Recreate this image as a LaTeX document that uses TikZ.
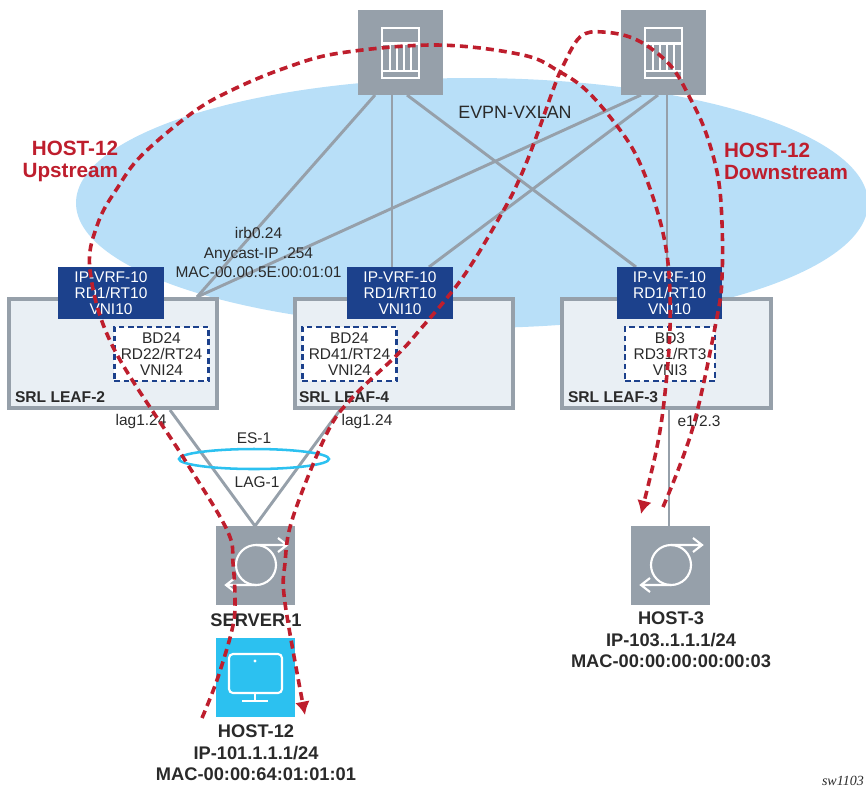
\documentclass[tikz,border=0pt]{standalone}
\usepackage{fontspec}
\setmainfont{Liberation Sans}
\newfontfamily\swfont{Liberation Serif}
\usetikzlibrary{arrows.meta}
\definecolor{cloud}{HTML}{B8DFF8}
\definecolor{gbox}{HTML}{96A0AA}
\definecolor{leaffill}{HTML}{E9EFF4}
\definecolor{navy}{HTML}{1C418C}
\definecolor{cyanb}{HTML}{2CC1F0}
\definecolor{redd}{HTML}{BE1E2D}
\definecolor{txt}{HTML}{2A2A2A}
\tikzset{
 x=0.75pt,y=-0.75pt,
 every node/.style={font=\fontsize{11.6}{12}\selectfont,text=txt,align=center,inner sep=0pt,outer sep=0pt},
 link/.style={draw=gbox,line width=2.2pt},
 boxg/.style={fill=gbox,draw=none,minimum width=63.75pt,minimum height=63.75pt},
 boxs/.style={fill=gbox,draw=none,minimum width=59.25pt,minimum height=59.25pt},
 leaf/.style={fill=leaffill,draw=gbox,line width=2.9pt},
 vrf/.style={fill=navy,text=white,minimum width=79pt,minimum height=38.5pt},
 bd/.style={fill=white,draw=navy,line width=2.2pt,dash pattern=on 4.2pt off 2.8pt,minimum height=40.5pt},
 flow/.style={draw=redd,line width=2.7pt,dash pattern=on 6pt off 3.8pt},
 ico/.style={draw=white,line width=1.6pt},
 bold/.style={font=\fontsize{13.7}{16.2}\selectfont\bfseries,text=txt},
 leaflab/.style={font=\fontsize{11.7}{14}\selectfont\bfseries,text=txt,anchor=west},
 redlab/.style={font=\fontsize{15.5}{16.5}\selectfont\bfseries,text=redd},
}
\begin{document}
\begin{tikzpicture}
\useasboundingbox (0,0) rectangle (866,790);
\clip (0,0) rectangle (866,790);
\fill[cloud] (472,203) ellipse [x radius=396,y radius=125];
% boxes
\node[boxg] (sp1) at (400.5,52.5) {};
\node[boxg] (sp2) at (663.5,52.5) {};
\node[leaf,minimum width=156pt,minimum height=81.75pt] (l2) at (113,353.5) {};
\node[leaf,minimum width=164pt,minimum height=81.75pt] (l4) at (404,353.5) {};
\node[leaf,minimum width=157pt,minimum height=81.75pt] (l3) at (666.5,353.5) {};
\node[boxs] (srv) at (255.5,565.5) {};
\node[boxs] (h3) at (670.5,565.5) {};
\node[boxs,fill=cyanb] (h12) at (255.5,677.5) {};
% connector anchors
\coordinate (a1) at (375,95);
\coordinate (a2) at (392,95);
\coordinate (a3) at (407,95);
\coordinate (b1) at (641,95);
\coordinate (b2) at (658,95);
\coordinate (b3) at (667,95);
\coordinate (l2t) at (197,297);
\coordinate (l4t) at (392,267);
\coordinate (l4u) at (429,267);
\coordinate (l3t) at (636,267);
\coordinate (l3v) at (667,267);
\coordinate (l2b) at (170,410);
\coordinate (l4b) at (340,410);
\coordinate (srvt) at (255,526);
\coordinate (l3b) at (669,410);
\coordinate (h3t) at (669,526);
\draw[link] (a1) -- (l2t);
\draw[link] (b1) -- (l2t);
\draw[link] (a2) -- (l4t);
\draw[link] (a3) -- (l3t);
\draw[link] (b2) -- (l4u);
\draw[link] (b3) -- (l3v);
\draw[link] (l2b) -- (srvt);
\draw[link] (l4b) -- (srvt);
\draw[link] (l3b) -- (h3t);
% vrf
\node[vrf] (v2) at (111,293) {IP-VRF-10\\RD1/RT10\\VNI10};
\node[vrf] (v4) at (400,293) {IP-VRF-10\\RD1/RT10\\VNI10};
\node[vrf] (v3) at (669.5,293) {IP-VRF-10\\RD1/RT10\\VNI10};
\node[bd,minimum width=71pt] (d2) at (161.5,354) {BD24\\RD22/RT24\\VNI24};
\node[bd,minimum width=71pt] (d4) at (349.5,354) {BD24\\RD41/RT24\\VNI24};
\node[bd,minimum width=67.5pt] (d3) at (670,354) {BD3\\RD31/RT3\\VNI3};
% labels
\node[leaflab] (t2) at (15,397) {SRL LEAF-2};
\node[leaflab] (t4) at (299,397) {SRL LEAF-4};
\node[leaflab] (t3) at (568,397) {SRL LEAF-3};
\node[font=\fontsize{13.4}{15}\selectfont] (evpn) at (515,112) {EVPN-VXLAN};
\node (irb) at (258.5,252.5) {irb0.24\\[2.4pt]Anycast-IP .254\\[2.4pt]MAC-00.00.5E:00:01:01};
\node (lg2) at (141,421) {lag1.24};
\node (lg4) at (367,421) {lag1.24};
\node (e1) at (699,421) {e1/2.3};
\node (es) at (254,438) {ES-1};
\node (lag) at (257,482) {LAG-1};
\node[bold] (nsrv) at (256,620) {SERVER-1};
\node[bold] (n12) at (256,753) {HOST-12\\IP-101.1.1.1/24\\MAC-00:00:64:01:01:01};
\node[bold] (n3) at (671,640) {HOST-3\\IP-103..1.1.1/24\\MAC-00:00:00:00:00:03};
\node[redlab,align=right,anchor=east] (up) at (118,161) {HOST-12\\Upstream};
\node[redlab,align=left,anchor=west] (down) at (724,161) {HOST-12\\Downstream};
\node[font=\swfont\itshape\fontsize{10.5}{12}\selectfont,anchor=west] (sw) at (822,781) {sw1103};
% ES ellipse
\draw[cyanb,line width=1.9pt] (254,459) ellipse [x radius=75,y radius=10];
% spine icons
\foreach \o in {0,263}{
 \begin{scope}[xshift=\o*0.75pt]
 \draw[ico] (382,28) rectangle (419,78);
 \draw[ico] (382,43.5) -- (419,43.5) (382,71) -- (419,71);
 \foreach \v in {390,397,404,411} \draw[ico] (\v,43.5) -- (\v,71);
 \end{scope}
}
% router icons
\foreach \o in {0,415}{
 \begin{scope}[xshift=\o*0.75pt]
 \draw[ico] (256,565) circle [radius=20];
 \draw[ico] (256,545) -- (286,545) (278,538) -- (287,545) -- (278,552);
 \draw[ico] (256,585) -- (227,585) (235,578) -- (226,585) -- (235,592);
 \end{scope}
}
% monitor
\draw[ico,rounded corners=3pt] (229,654) rectangle (282,693);
\draw[ico] (255,693) -- (255,701) (242,701) -- (268,701);
\fill[white] (255,661) circle [radius=1.6];
% flows
\draw[flow,-{Latex[length=10pt,width=11pt]}] plot[smooth,tension=0.6] coordinates {(202,718) (217,680) (232,630) (235,603) (233,563) (227,530) (183,457) (113,347) (90,270) (98,223) (118,187) (142,155) (192,113) (232,90) (285,68) (340,53) (437,45) (523,55) (560,72) (586,90) (614,122) (637,157) (657,210) (668,263) (670,327) (665,393) (657,447) (641,514)};
\draw[flow,-{Latex[length=10pt,width=11pt]}] plot[smooth,tension=0.6] coordinates {(663,507) (693,427) (717,317) (722,277) (722,223) (718,177) (706,133) (691,100) (670,65) (637,40) (603,32) (580,37) (562,68) (553,90) (534,143) (519,180) (502,213) (463,277) (418,332) (397,355) (353,397) (327,433) (293,517) (285,563) (285,603) (305,715)};
\end{tikzpicture}
\end{document}
